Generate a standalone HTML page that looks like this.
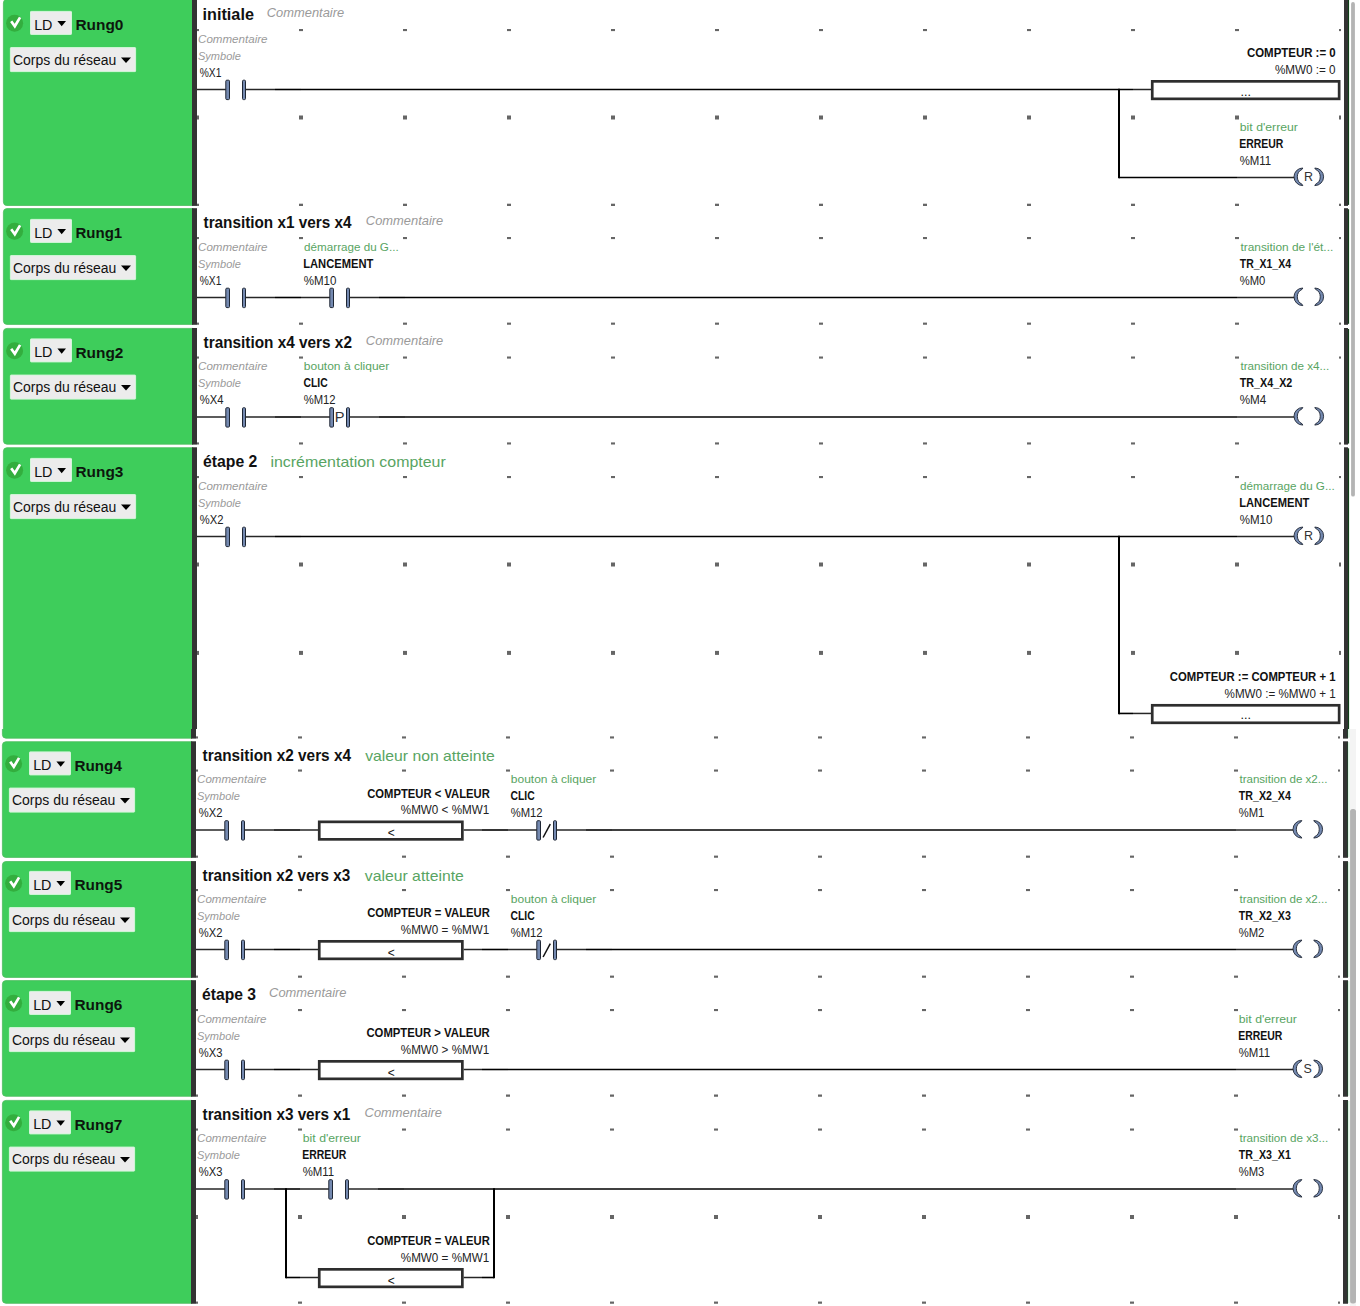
<!DOCTYPE html><html><head><meta charset="utf-8"><title>Ladder</title><style>
html,body{margin:0;padding:0;background:#fff;width:1360px;height:1306px;overflow:hidden}
svg{position:absolute;left:0;top:0;display:block}
</style></head><body>
<svg width="1360" height="1306" viewBox="0 0 1360 1306">
<rect x="0" y="0" width="1360" height="1306" fill="#ffffff"/>
<g font-family="Liberation Sans, sans-serif" fill="#1a1a1a">
<rect x="1351.1" y="2" width="3.8" height="494.6" rx="1.9" fill="#b4b4b4"/>
<rect x="1349.8" y="729" width="6.2" height="577" fill="#f4f4f4"/>
<rect x="1350.1" y="808.9" width="5.9" height="494.6" rx="2.5" fill="#b4b4b4"/>
<path d="M7.00,-0.60 H193.00 V205.50 H7.00 Q3.40,205.50 3.40,201.90 V3.00 Q3.40,-0.60 7.00,-0.60 Z" fill="#3ecd5b" stroke="#4cbb5e" stroke-width="0.8"/>
<circle cx="14.60" cy="23.30" r="8.5" fill="#33ae3e"/>
<path d="M11.20,21.30 L14.80,26.20 L20.10,17.40" fill="none" stroke="#ffffff" stroke-width="2.7"/>
<rect x="30.50" y="11.40" width="41" height="23" rx="0.6" fill="#ececec" stroke="#d3f7da" stroke-width="1"/>
<text x="34.15" y="29.70" font-size="15.0" fill="#111111" textLength="18.34" lengthAdjust="spacingAndGlyphs">LD</text>
<path d="M57.40,21.00 H66.00 L61.70,26.30 Z" fill="#000"/>
<text x="75.50" y="30.00" font-size="15.0" font-weight="bold" fill="#0c160d" textLength="47.93" lengthAdjust="spacingAndGlyphs">Rung0</text>
<rect x="10.40" y="47.60" width="125.2" height="24" rx="0.6" fill="#ececec" stroke="#d3f7da" stroke-width="1"/>
<text x="13.00" y="64.70" font-size="14.0" fill="#111111" textLength="103.35" lengthAdjust="spacingAndGlyphs">Corps du réseau</text>
<path d="M121.00,57.50 H131.00 L126.00,62.90 Z" fill="#000"/>
<rect x="192.00" y="-1.00" width="5.00" height="206.90" fill="#333333"/>
<rect x="1344.00" y="-1.00" width="4.00" height="206.90" fill="#333333"/>
<rect x="1348.00" y="0.00" width="1.00" height="204.90" fill="#103f18"/>
<rect x="1349.00" y="0.00" width="0.60" height="204.90" fill="#cfeed6"/>
<clipPath id="gc1"><rect x="0" y="29.10" width="1350" height="176.80"/></clipPath>
<g clip-path="url(#gc1)" fill="#666666"><rect x="197.00" y="27.10" width="2" height="4"/><rect x="299.00" y="27.10" width="4" height="4"/><rect x="403.00" y="27.10" width="4" height="4"/><rect x="507.00" y="27.10" width="4" height="4"/><rect x="611.00" y="27.10" width="4" height="4"/><rect x="715.00" y="27.10" width="4" height="4"/><rect x="819.00" y="27.10" width="4" height="4"/><rect x="923.00" y="27.10" width="4" height="4"/><rect x="1027.00" y="27.10" width="4" height="4"/><rect x="1131.00" y="27.10" width="4" height="4"/><rect x="1235.00" y="27.10" width="4" height="4"/><rect x="1339.00" y="27.10" width="2" height="4"/><rect x="197.00" y="115.50" width="2" height="4"/><rect x="299.00" y="115.50" width="4" height="4"/><rect x="403.00" y="115.50" width="4" height="4"/><rect x="507.00" y="115.50" width="4" height="4"/><rect x="611.00" y="115.50" width="4" height="4"/><rect x="715.00" y="115.50" width="4" height="4"/><rect x="819.00" y="115.50" width="4" height="4"/><rect x="923.00" y="115.50" width="4" height="4"/><rect x="1027.00" y="115.50" width="4" height="4"/><rect x="1131.00" y="115.50" width="4" height="4"/><rect x="1235.00" y="115.50" width="4" height="4"/><rect x="1339.00" y="115.50" width="2" height="4"/><rect x="197.00" y="203.70" width="2" height="4"/><rect x="299.00" y="203.70" width="4" height="4"/><rect x="403.00" y="203.70" width="4" height="4"/><rect x="507.00" y="203.70" width="4" height="4"/><rect x="611.00" y="203.70" width="4" height="4"/><rect x="715.00" y="203.70" width="4" height="4"/><rect x="819.00" y="203.70" width="4" height="4"/><rect x="923.00" y="203.70" width="4" height="4"/><rect x="1027.00" y="203.70" width="4" height="4"/><rect x="1131.00" y="203.70" width="4" height="4"/><rect x="1235.00" y="203.70" width="4" height="4"/><rect x="1339.00" y="203.70" width="2" height="4"/></g>
<text x="202.57" y="19.90" font-size="16.0" font-weight="bold" fill="#111111" textLength="51.34" lengthAdjust="spacingAndGlyphs">initiale</text>
<text x="266.79" y="16.90" font-size="12.5" font-style="italic" fill="#9a9a9a" textLength="77.39" lengthAdjust="spacingAndGlyphs">Commentaire</text>
<line x1="197.00" y1="89.50" x2="226.00" y2="89.50" stroke="#262626" stroke-width="1.5"/>
<line x1="245.00" y1="89.50" x2="275.00" y2="89.50" stroke="#262626" stroke-width="1.5"/>
<line x1="275.00" y1="89.50" x2="301.00" y2="89.50" stroke="#000000" stroke-width="1.6"/>
<rect x="225.80" y="80.20" width="3.7" height="19.4" rx="1" fill="#7489b0" stroke="#1e2634" stroke-width="1"/>
<rect x="242.50" y="80.20" width="3.0" height="19.4" rx="1" fill="#7489b0" stroke="#1e2634" stroke-width="1"/>
<text x="198.06" y="42.65" font-size="11.3" font-style="italic" fill="#9a9a9a" textLength="69.47" lengthAdjust="spacingAndGlyphs">Commentaire</text>
<text x="197.97" y="59.70" font-size="11.3" font-style="italic" fill="#9a9a9a" textLength="42.93" lengthAdjust="spacingAndGlyphs">Symbole</text>
<text x="199.74" y="76.50" font-size="12.0" fill="#222222" textLength="21.64" lengthAdjust="spacingAndGlyphs">%X1</text>
<line x1="301.00" y1="89.50" x2="1133.00" y2="89.50" stroke="#000000" stroke-width="1.6"/>
<line x1="1119.00" y1="88.70" x2="1119.00" y2="178.30" stroke="#000000" stroke-width="2"/>
<line x1="1119.00" y1="177.50" x2="1237.00" y2="177.50" stroke="#000000" stroke-width="1.6"/>
<line x1="1133.00" y1="89.50" x2="1152.00" y2="89.50" stroke="#262626" stroke-width="1.5"/>
<rect x="1152.25" y="81.35" width="186.90" height="17.50" fill="#fff" stroke="#2e2e2e" stroke-width="2.7"/>
<text x="1245.70" y="95.50" font-size="12.5" fill="#111111" text-anchor="middle">...</text>
<text x="1335.67" y="57.00" font-size="12.0" font-weight="bold" fill="#111111" text-anchor="end" textLength="88.73" lengthAdjust="spacingAndGlyphs">COMPTEUR := 0</text>
<text x="1335.62" y="73.60" font-size="12.0" fill="#222222" text-anchor="end" textLength="60.73" lengthAdjust="spacingAndGlyphs">%MW0 := 0</text>
<line x1="1237.00" y1="177.50" x2="1294.50" y2="177.50" stroke="#262626" stroke-width="1.5"/>
<path d="M1302.80,168.00 A8.8 8.8 0 0 0 1302.80,185.60 L1302.10,184.30 A8.3 8.3 0 0 1 1302.10,169.30 Z" fill="#7489b0" stroke="#1e2634" stroke-width="0.9"/>
<path d="M1314.80,168.00 A8.8 8.8 0 0 1 1314.80,185.60 L1315.50,184.30 A8.3 8.3 0 0 0 1315.50,169.30 Z" fill="#7489b0" stroke="#1e2634" stroke-width="0.9"/>
<text x="1308.60" y="180.90" font-size="12.5" fill="#333333" text-anchor="middle">R</text>
<text x="1239.80" y="130.80" font-size="11.4" fill="#58a462" textLength="58.13" lengthAdjust="spacingAndGlyphs">bit d&#x27;erreur</text>
<text x="1239.22" y="147.80" font-size="12.0" font-weight="bold" fill="#111111" textLength="44.12" lengthAdjust="spacingAndGlyphs">ERREUR</text>
<text x="1239.70" y="164.50" font-size="12.0" fill="#222222" textLength="31.52" lengthAdjust="spacingAndGlyphs">%M11</text>
<path d="M7.00,208.60 H193.00 V324.40 H7.00 Q3.40,324.40 3.40,320.80 V212.20 Q3.40,208.60 7.00,208.60 Z" fill="#3ecd5b" stroke="#4cbb5e" stroke-width="0.8"/>
<circle cx="14.60" cy="231.30" r="8.5" fill="#33ae3e"/>
<path d="M11.20,229.30 L14.80,234.20 L20.10,225.40" fill="none" stroke="#ffffff" stroke-width="2.7"/>
<rect x="30.50" y="219.40" width="41" height="23" rx="0.6" fill="#ececec" stroke="#d3f7da" stroke-width="1"/>
<text x="34.15" y="237.70" font-size="15.0" fill="#111111" textLength="18.34" lengthAdjust="spacingAndGlyphs">LD</text>
<path d="M57.40,229.00 H66.00 L61.70,234.30 Z" fill="#000"/>
<text x="75.53" y="238.00" font-size="15.0" font-weight="bold" fill="#0c160d" textLength="46.66" lengthAdjust="spacingAndGlyphs">Rung1</text>
<rect x="10.40" y="255.60" width="125.2" height="24" rx="0.6" fill="#ececec" stroke="#d3f7da" stroke-width="1"/>
<text x="13.00" y="272.70" font-size="14.0" fill="#111111" textLength="103.35" lengthAdjust="spacingAndGlyphs">Corps du réseau</text>
<path d="M121.00,265.50 H131.00 L126.00,270.90 Z" fill="#000"/>
<rect x="192.00" y="208.20" width="5.00" height="116.60" fill="#333333"/>
<rect x="1344.00" y="208.20" width="4.00" height="116.60" fill="#333333"/>
<rect x="1348.00" y="209.20" width="1.00" height="114.60" fill="#103f18"/>
<rect x="1349.00" y="209.20" width="0.60" height="114.60" fill="#cfeed6"/>
<clipPath id="gc2"><rect x="0" y="237.10" width="1350" height="87.70"/></clipPath>
<g clip-path="url(#gc2)" fill="#666666"><rect x="197.00" y="235.10" width="2" height="4"/><rect x="299.00" y="235.10" width="4" height="4"/><rect x="403.00" y="235.10" width="4" height="4"/><rect x="507.00" y="235.10" width="4" height="4"/><rect x="611.00" y="235.10" width="4" height="4"/><rect x="715.00" y="235.10" width="4" height="4"/><rect x="819.00" y="235.10" width="4" height="4"/><rect x="923.00" y="235.10" width="4" height="4"/><rect x="1027.00" y="235.10" width="4" height="4"/><rect x="1131.00" y="235.10" width="4" height="4"/><rect x="1235.00" y="235.10" width="4" height="4"/><rect x="1339.00" y="235.10" width="2" height="4"/><rect x="197.00" y="322.60" width="2" height="4"/><rect x="299.00" y="322.60" width="4" height="4"/><rect x="403.00" y="322.60" width="4" height="4"/><rect x="507.00" y="322.60" width="4" height="4"/><rect x="611.00" y="322.60" width="4" height="4"/><rect x="715.00" y="322.60" width="4" height="4"/><rect x="819.00" y="322.60" width="4" height="4"/><rect x="923.00" y="322.60" width="4" height="4"/><rect x="1027.00" y="322.60" width="4" height="4"/><rect x="1131.00" y="322.60" width="4" height="4"/><rect x="1235.00" y="322.60" width="4" height="4"/><rect x="1339.00" y="322.60" width="2" height="4"/></g>
<text x="203.55" y="227.70" font-size="16.0" font-weight="bold" fill="#111111" textLength="147.85" lengthAdjust="spacingAndGlyphs">transition x1 vers x4</text>
<text x="365.89" y="224.70" font-size="12.5" font-style="italic" fill="#9a9a9a" textLength="77.39" lengthAdjust="spacingAndGlyphs">Commentaire</text>
<line x1="197.00" y1="297.50" x2="226.00" y2="297.50" stroke="#262626" stroke-width="1.5"/>
<line x1="245.00" y1="297.50" x2="275.00" y2="297.50" stroke="#262626" stroke-width="1.5"/>
<line x1="275.00" y1="297.50" x2="301.00" y2="297.50" stroke="#000000" stroke-width="1.6"/>
<rect x="225.80" y="288.20" width="3.7" height="19.4" rx="1" fill="#7489b0" stroke="#1e2634" stroke-width="1"/>
<rect x="242.50" y="288.20" width="3.0" height="19.4" rx="1" fill="#7489b0" stroke="#1e2634" stroke-width="1"/>
<text x="198.06" y="250.65" font-size="11.3" font-style="italic" fill="#9a9a9a" textLength="69.47" lengthAdjust="spacingAndGlyphs">Commentaire</text>
<text x="197.97" y="267.70" font-size="11.3" font-style="italic" fill="#9a9a9a" textLength="42.93" lengthAdjust="spacingAndGlyphs">Symbole</text>
<text x="199.74" y="284.50" font-size="12.0" fill="#222222" textLength="21.64" lengthAdjust="spacingAndGlyphs">%X1</text>
<line x1="301.00" y1="297.50" x2="330.00" y2="297.50" stroke="#262626" stroke-width="1.5"/>
<line x1="349.00" y1="297.50" x2="379.00" y2="297.50" stroke="#262626" stroke-width="1.5"/>
<line x1="379.00" y1="297.50" x2="405.00" y2="297.50" stroke="#000000" stroke-width="1.6"/>
<rect x="329.80" y="288.20" width="3.7" height="19.4" rx="1" fill="#7489b0" stroke="#1e2634" stroke-width="1"/>
<rect x="346.50" y="288.20" width="3.0" height="19.4" rx="1" fill="#7489b0" stroke="#1e2634" stroke-width="1"/>
<text x="304.13" y="250.80" font-size="11.4" fill="#58a462" textLength="94.52" lengthAdjust="spacingAndGlyphs">démarrage du G...</text>
<text x="303.17" y="267.80" font-size="12.0" font-weight="bold" fill="#111111" textLength="70.17" lengthAdjust="spacingAndGlyphs">LANCEMENT</text>
<text x="303.70" y="284.50" font-size="12.0" fill="#222222" textLength="32.70" lengthAdjust="spacingAndGlyphs">%M10</text>
<line x1="405.00" y1="297.50" x2="1237.00" y2="297.50" stroke="#000000" stroke-width="1.6"/>
<line x1="1237.00" y1="297.50" x2="1294.50" y2="297.50" stroke="#262626" stroke-width="1.5"/>
<path d="M1302.80,288.00 A8.8 8.8 0 0 0 1302.80,305.60 L1302.10,304.30 A8.3 8.3 0 0 1 1302.10,289.30 Z" fill="#7489b0" stroke="#1e2634" stroke-width="0.9"/>
<path d="M1314.80,288.00 A8.8 8.8 0 0 1 1314.80,305.60 L1315.50,304.30 A8.3 8.3 0 0 0 1315.50,289.30 Z" fill="#7489b0" stroke="#1e2634" stroke-width="0.9"/>
<text x="1240.42" y="250.80" font-size="11.4" fill="#58a462" textLength="92.86" lengthAdjust="spacingAndGlyphs">transition de l&#x27;ét...</text>
<text x="1239.80" y="267.80" font-size="12.0" font-weight="bold" fill="#111111" textLength="51.18" lengthAdjust="spacingAndGlyphs">TR_X1_X4</text>
<text x="1239.71" y="284.50" font-size="12.0" fill="#222222" textLength="25.57" lengthAdjust="spacingAndGlyphs">%M0</text>
<path d="M7.00,328.40 H193.00 V444.20 H7.00 Q3.40,444.20 3.40,440.60 V332.00 Q3.40,328.40 7.00,328.40 Z" fill="#3ecd5b" stroke="#4cbb5e" stroke-width="0.8"/>
<circle cx="14.60" cy="350.80" r="8.5" fill="#33ae3e"/>
<path d="M11.20,348.80 L14.80,353.70 L20.10,344.90" fill="none" stroke="#ffffff" stroke-width="2.7"/>
<rect x="30.50" y="338.90" width="41" height="23" rx="0.6" fill="#ececec" stroke="#d3f7da" stroke-width="1"/>
<text x="34.15" y="357.20" font-size="15.0" fill="#111111" textLength="18.34" lengthAdjust="spacingAndGlyphs">LD</text>
<path d="M57.40,348.50 H66.00 L61.70,353.80 Z" fill="#000"/>
<text x="75.50" y="357.50" font-size="15.0" font-weight="bold" fill="#0c160d" textLength="47.93" lengthAdjust="spacingAndGlyphs">Rung2</text>
<rect x="10.40" y="375.10" width="125.2" height="24" rx="0.6" fill="#ececec" stroke="#d3f7da" stroke-width="1"/>
<text x="13.00" y="392.20" font-size="14.0" fill="#111111" textLength="103.35" lengthAdjust="spacingAndGlyphs">Corps du réseau</text>
<path d="M121.00,385.00 H131.00 L126.00,390.40 Z" fill="#000"/>
<rect x="192.00" y="328.00" width="5.00" height="116.60" fill="#333333"/>
<rect x="1344.00" y="328.00" width="4.00" height="116.60" fill="#333333"/>
<rect x="1348.00" y="329.00" width="1.00" height="114.60" fill="#103f18"/>
<rect x="1349.00" y="329.00" width="0.60" height="114.60" fill="#cfeed6"/>
<clipPath id="gc3"><rect x="0" y="356.60" width="1350" height="88.00"/></clipPath>
<g clip-path="url(#gc3)" fill="#666666"><rect x="197.00" y="354.60" width="2" height="4"/><rect x="299.00" y="354.60" width="4" height="4"/><rect x="403.00" y="354.60" width="4" height="4"/><rect x="507.00" y="354.60" width="4" height="4"/><rect x="611.00" y="354.60" width="4" height="4"/><rect x="715.00" y="354.60" width="4" height="4"/><rect x="819.00" y="354.60" width="4" height="4"/><rect x="923.00" y="354.60" width="4" height="4"/><rect x="1027.00" y="354.60" width="4" height="4"/><rect x="1131.00" y="354.60" width="4" height="4"/><rect x="1235.00" y="354.60" width="4" height="4"/><rect x="1339.00" y="354.60" width="2" height="4"/><rect x="197.00" y="442.40" width="2" height="4"/><rect x="299.00" y="442.40" width="4" height="4"/><rect x="403.00" y="442.40" width="4" height="4"/><rect x="507.00" y="442.40" width="4" height="4"/><rect x="611.00" y="442.40" width="4" height="4"/><rect x="715.00" y="442.40" width="4" height="4"/><rect x="819.00" y="442.40" width="4" height="4"/><rect x="923.00" y="442.40" width="4" height="4"/><rect x="1027.00" y="442.40" width="4" height="4"/><rect x="1131.00" y="442.40" width="4" height="4"/><rect x="1235.00" y="442.40" width="4" height="4"/><rect x="1339.00" y="442.40" width="2" height="4"/></g>
<text x="203.55" y="347.50" font-size="16.0" font-weight="bold" fill="#111111" textLength="148.39" lengthAdjust="spacingAndGlyphs">transition x4 vers x2</text>
<text x="365.89" y="344.50" font-size="12.5" font-style="italic" fill="#9a9a9a" textLength="77.39" lengthAdjust="spacingAndGlyphs">Commentaire</text>
<line x1="197.00" y1="417.00" x2="226.00" y2="417.00" stroke="#262626" stroke-width="1.5"/>
<line x1="245.00" y1="417.00" x2="275.00" y2="417.00" stroke="#262626" stroke-width="1.5"/>
<line x1="275.00" y1="417.00" x2="301.00" y2="417.00" stroke="#000000" stroke-width="1.6"/>
<rect x="225.80" y="407.70" width="3.7" height="19.4" rx="1" fill="#7489b0" stroke="#1e2634" stroke-width="1"/>
<rect x="242.50" y="407.70" width="3.0" height="19.4" rx="1" fill="#7489b0" stroke="#1e2634" stroke-width="1"/>
<text x="198.06" y="370.15" font-size="11.3" font-style="italic" fill="#9a9a9a" textLength="69.47" lengthAdjust="spacingAndGlyphs">Commentaire</text>
<text x="197.97" y="387.20" font-size="11.3" font-style="italic" fill="#9a9a9a" textLength="42.93" lengthAdjust="spacingAndGlyphs">Symbole</text>
<text x="199.71" y="404.00" font-size="12.0" fill="#222222" textLength="23.71" lengthAdjust="spacingAndGlyphs">%X4</text>
<line x1="301.00" y1="417.00" x2="330.00" y2="417.00" stroke="#262626" stroke-width="1.5"/>
<line x1="349.00" y1="417.00" x2="379.00" y2="417.00" stroke="#262626" stroke-width="1.5"/>
<line x1="379.00" y1="417.00" x2="405.00" y2="417.00" stroke="#000000" stroke-width="1.6"/>
<rect x="329.80" y="407.70" width="3.7" height="19.4" rx="1" fill="#7489b0" stroke="#1e2634" stroke-width="1"/>
<rect x="346.50" y="407.70" width="3.0" height="19.4" rx="1" fill="#7489b0" stroke="#1e2634" stroke-width="1"/>
<text x="339.70" y="421.90" font-size="14.6" fill="#333333" text-anchor="middle">P</text>
<text x="303.82" y="370.30" font-size="11.4" fill="#58a462" textLength="85.48" lengthAdjust="spacingAndGlyphs">bouton à cliquer</text>
<text x="303.48" y="387.30" font-size="12.0" font-weight="bold" fill="#111111" textLength="24.21" lengthAdjust="spacingAndGlyphs">CLIC</text>
<text x="303.71" y="404.00" font-size="12.0" fill="#222222" textLength="31.85" lengthAdjust="spacingAndGlyphs">%M12</text>
<line x1="405.00" y1="417.00" x2="1237.00" y2="417.00" stroke="#000000" stroke-width="1.6"/>
<line x1="1237.00" y1="417.00" x2="1294.50" y2="417.00" stroke="#262626" stroke-width="1.5"/>
<path d="M1302.80,407.50 A8.8 8.8 0 0 0 1302.80,425.10 L1302.10,423.80 A8.3 8.3 0 0 1 1302.10,408.80 Z" fill="#7489b0" stroke="#1e2634" stroke-width="0.9"/>
<path d="M1314.80,407.50 A8.8 8.8 0 0 1 1314.80,425.10 L1315.50,423.80 A8.3 8.3 0 0 0 1315.50,408.80 Z" fill="#7489b0" stroke="#1e2634" stroke-width="0.9"/>
<text x="1240.43" y="370.30" font-size="11.4" fill="#58a462" textLength="88.73" lengthAdjust="spacingAndGlyphs">transition de x4...</text>
<text x="1239.79" y="387.30" font-size="12.0" font-weight="bold" fill="#111111" textLength="52.56" lengthAdjust="spacingAndGlyphs">TR_X4_X2</text>
<text x="1239.69" y="404.00" font-size="12.0" fill="#222222" textLength="26.60" lengthAdjust="spacingAndGlyphs">%M4</text>
<path d="M7.00,447.70 H193.00 V738.20 H7.00 Q3.40,738.20 3.40,734.60 V451.30 Q3.40,447.70 7.00,447.70 Z" fill="#3ecd5b" stroke="#4cbb5e" stroke-width="0.8"/>
<circle cx="14.60" cy="470.30" r="8.5" fill="#33ae3e"/>
<path d="M11.20,468.30 L14.80,473.20 L20.10,464.40" fill="none" stroke="#ffffff" stroke-width="2.7"/>
<rect x="30.50" y="458.40" width="41" height="23" rx="0.6" fill="#ececec" stroke="#d3f7da" stroke-width="1"/>
<text x="34.15" y="476.70" font-size="15.0" fill="#111111" textLength="18.34" lengthAdjust="spacingAndGlyphs">LD</text>
<path d="M57.40,468.00 H66.00 L61.70,473.30 Z" fill="#000"/>
<text x="75.50" y="477.00" font-size="15.0" font-weight="bold" fill="#0c160d" textLength="47.85" lengthAdjust="spacingAndGlyphs">Rung3</text>
<rect x="10.40" y="494.60" width="125.2" height="24" rx="0.6" fill="#ececec" stroke="#d3f7da" stroke-width="1"/>
<text x="13.00" y="511.70" font-size="14.0" fill="#111111" textLength="103.35" lengthAdjust="spacingAndGlyphs">Corps du réseau</text>
<path d="M121.00,504.50 H131.00 L126.00,509.90 Z" fill="#000"/>
<rect x="192.00" y="447.30" width="5.00" height="291.30" fill="#333333"/>
<rect x="1344.00" y="447.30" width="4.00" height="291.30" fill="#333333"/>
<rect x="1348.00" y="448.30" width="1.00" height="289.30" fill="#103f18"/>
<rect x="1349.00" y="448.30" width="0.60" height="289.30" fill="#cfeed6"/>
<clipPath id="gc4"><rect x="0" y="476.10" width="1350" height="262.50"/></clipPath>
<g clip-path="url(#gc4)" fill="#666666"><rect x="197.00" y="474.10" width="2" height="4"/><rect x="299.00" y="474.10" width="4" height="4"/><rect x="403.00" y="474.10" width="4" height="4"/><rect x="507.00" y="474.10" width="4" height="4"/><rect x="611.00" y="474.10" width="4" height="4"/><rect x="715.00" y="474.10" width="4" height="4"/><rect x="819.00" y="474.10" width="4" height="4"/><rect x="923.00" y="474.10" width="4" height="4"/><rect x="1027.00" y="474.10" width="4" height="4"/><rect x="1131.00" y="474.10" width="4" height="4"/><rect x="1235.00" y="474.10" width="4" height="4"/><rect x="1339.00" y="474.10" width="2" height="4"/><rect x="197.00" y="562.50" width="2" height="4"/><rect x="299.00" y="562.50" width="4" height="4"/><rect x="403.00" y="562.50" width="4" height="4"/><rect x="507.00" y="562.50" width="4" height="4"/><rect x="611.00" y="562.50" width="4" height="4"/><rect x="715.00" y="562.50" width="4" height="4"/><rect x="819.00" y="562.50" width="4" height="4"/><rect x="923.00" y="562.50" width="4" height="4"/><rect x="1027.00" y="562.50" width="4" height="4"/><rect x="1131.00" y="562.50" width="4" height="4"/><rect x="1235.00" y="562.50" width="4" height="4"/><rect x="1339.00" y="562.50" width="2" height="4"/><rect x="197.00" y="650.90" width="2" height="4"/><rect x="299.00" y="650.90" width="4" height="4"/><rect x="403.00" y="650.90" width="4" height="4"/><rect x="507.00" y="650.90" width="4" height="4"/><rect x="611.00" y="650.90" width="4" height="4"/><rect x="715.00" y="650.90" width="4" height="4"/><rect x="819.00" y="650.90" width="4" height="4"/><rect x="923.00" y="650.90" width="4" height="4"/><rect x="1027.00" y="650.90" width="4" height="4"/><rect x="1131.00" y="650.90" width="4" height="4"/><rect x="1235.00" y="650.90" width="4" height="4"/><rect x="1339.00" y="650.90" width="2" height="4"/><rect x="197.00" y="736.40" width="2" height="4"/><rect x="299.00" y="736.40" width="4" height="4"/><rect x="403.00" y="736.40" width="4" height="4"/><rect x="507.00" y="736.40" width="4" height="4"/><rect x="611.00" y="736.40" width="4" height="4"/><rect x="715.00" y="736.40" width="4" height="4"/><rect x="819.00" y="736.40" width="4" height="4"/><rect x="923.00" y="736.40" width="4" height="4"/><rect x="1027.00" y="736.40" width="4" height="4"/><rect x="1131.00" y="736.40" width="4" height="4"/><rect x="1235.00" y="736.40" width="4" height="4"/><rect x="1339.00" y="736.40" width="2" height="4"/></g>
<text x="203.07" y="466.80" font-size="16.0" font-weight="bold" fill="#111111" textLength="54.28" lengthAdjust="spacingAndGlyphs">étape 2</text>
<text x="270.46" y="466.80" font-size="15.0" fill="#58a462" textLength="175.29" lengthAdjust="spacingAndGlyphs">incrémentation compteur</text>
<line x1="197.00" y1="536.50" x2="226.00" y2="536.50" stroke="#262626" stroke-width="1.5"/>
<line x1="245.00" y1="536.50" x2="275.00" y2="536.50" stroke="#262626" stroke-width="1.5"/>
<line x1="275.00" y1="536.50" x2="301.00" y2="536.50" stroke="#000000" stroke-width="1.6"/>
<rect x="225.80" y="527.20" width="3.7" height="19.4" rx="1" fill="#7489b0" stroke="#1e2634" stroke-width="1"/>
<rect x="242.50" y="527.20" width="3.0" height="19.4" rx="1" fill="#7489b0" stroke="#1e2634" stroke-width="1"/>
<text x="198.06" y="489.65" font-size="11.3" font-style="italic" fill="#9a9a9a" textLength="69.47" lengthAdjust="spacingAndGlyphs">Commentaire</text>
<text x="197.97" y="506.70" font-size="11.3" font-style="italic" fill="#9a9a9a" textLength="42.93" lengthAdjust="spacingAndGlyphs">Symbole</text>
<text x="199.71" y="523.50" font-size="12.0" fill="#222222" textLength="23.71" lengthAdjust="spacingAndGlyphs">%X2</text>
<line x1="301.00" y1="536.50" x2="1237.00" y2="536.50" stroke="#000000" stroke-width="1.6"/>
<line x1="1119.00" y1="535.70" x2="1119.00" y2="714.25" stroke="#000000" stroke-width="2"/>
<line x1="1119.00" y1="713.45" x2="1133.00" y2="713.45" stroke="#000000" stroke-width="1.6"/>
<line x1="1237.00" y1="536.50" x2="1294.50" y2="536.50" stroke="#262626" stroke-width="1.5"/>
<path d="M1302.80,527.00 A8.8 8.8 0 0 0 1302.80,544.60 L1302.10,543.30 A8.3 8.3 0 0 1 1302.10,528.30 Z" fill="#7489b0" stroke="#1e2634" stroke-width="0.9"/>
<path d="M1314.80,527.00 A8.8 8.8 0 0 1 1314.80,544.60 L1315.50,543.30 A8.3 8.3 0 0 0 1315.50,528.30 Z" fill="#7489b0" stroke="#1e2634" stroke-width="0.9"/>
<text x="1308.60" y="539.90" font-size="12.5" fill="#333333" text-anchor="middle">R</text>
<text x="1240.13" y="489.80" font-size="11.4" fill="#58a462" textLength="94.52" lengthAdjust="spacingAndGlyphs">démarrage du G...</text>
<text x="1239.17" y="506.80" font-size="12.0" font-weight="bold" fill="#111111" textLength="70.17" lengthAdjust="spacingAndGlyphs">LANCEMENT</text>
<text x="1239.70" y="523.50" font-size="12.0" fill="#222222" textLength="32.70" lengthAdjust="spacingAndGlyphs">%M10</text>
<line x1="1133.00" y1="713.45" x2="1152.00" y2="713.45" stroke="#262626" stroke-width="1.5"/>
<rect x="1152.25" y="705.30" width="186.90" height="17.50" fill="#fff" stroke="#2e2e2e" stroke-width="2.7"/>
<text x="1245.70" y="719.45" font-size="12.5" fill="#111111" text-anchor="middle">...</text>
<text x="1335.52" y="680.95" font-size="12.0" font-weight="bold" fill="#111111" text-anchor="end" textLength="165.67" lengthAdjust="spacingAndGlyphs">COMPTEUR := COMPTEUR + 1</text>
<text x="1335.75" y="697.55" font-size="12.0" fill="#222222" text-anchor="end" textLength="111.16" lengthAdjust="spacingAndGlyphs">%MW0 := %MW0 + 1</text>
<clipPath id="stitch"><rect x="0" y="729" width="1349.5" height="12"/></clipPath><g clip-path="url(#stitch)">
<rect x="0.00" y="729.00" width="1349.50" height="12.00" fill="#ffffff"/>
<path d="M6.00,447.70 H192.00 V738.20 H6.00 Q2.40,738.20 2.40,734.60 V451.30 Q2.40,447.70 6.00,447.70 Z" fill="#3ecd5b" stroke="#4cbb5e" stroke-width="0.8"/>
<circle cx="13.60" cy="470.30" r="8.5" fill="#33ae3e"/>
<path d="M10.20,468.30 L13.80,473.20 L19.10,464.40" fill="none" stroke="#ffffff" stroke-width="2.7"/>
<rect x="29.50" y="458.40" width="41" height="23" rx="0.6" fill="#ececec" stroke="#d3f7da" stroke-width="1"/>
<text x="33.15" y="476.70" font-size="15.0" fill="#111111" textLength="18.34" lengthAdjust="spacingAndGlyphs">LD</text>
<path d="M56.40,468.00 H65.00 L60.70,473.30 Z" fill="#000"/>
<text x="74.50" y="477.00" font-size="15.0" font-weight="bold" fill="#0c160d" textLength="47.85" lengthAdjust="spacingAndGlyphs">Rung3</text>
<rect x="9.40" y="494.60" width="125.2" height="24" rx="0.6" fill="#ececec" stroke="#d3f7da" stroke-width="1"/>
<text x="12.00" y="511.70" font-size="14.0" fill="#111111" textLength="103.35" lengthAdjust="spacingAndGlyphs">Corps du réseau</text>
<path d="M120.00,504.50 H130.00 L125.00,509.90 Z" fill="#000"/>
<rect x="191.00" y="447.30" width="5.00" height="291.30" fill="#333333"/>
<rect x="1343.00" y="447.30" width="5.00" height="291.30" fill="#333333"/>
<rect x="1347.40" y="448.30" width="0.80" height="289.30" fill="#1f4a2a"/>
<rect x="1348.20" y="448.30" width="1.40" height="289.30" fill="#dcf8e4"/>
<clipPath id="gc5"><rect x="0" y="476.10" width="1350" height="262.50"/></clipPath>
<g clip-path="url(#gc5)" fill="#666666"><rect x="196.00" y="474.10" width="2" height="4"/><rect x="298.00" y="474.10" width="4" height="4"/><rect x="402.00" y="474.10" width="4" height="4"/><rect x="506.00" y="474.10" width="4" height="4"/><rect x="610.00" y="474.10" width="4" height="4"/><rect x="714.00" y="474.10" width="4" height="4"/><rect x="818.00" y="474.10" width="4" height="4"/><rect x="922.00" y="474.10" width="4" height="4"/><rect x="1026.00" y="474.10" width="4" height="4"/><rect x="1130.00" y="474.10" width="4" height="4"/><rect x="1234.00" y="474.10" width="4" height="4"/><rect x="1338.00" y="474.10" width="2" height="4"/><rect x="196.00" y="562.50" width="2" height="4"/><rect x="298.00" y="562.50" width="4" height="4"/><rect x="402.00" y="562.50" width="4" height="4"/><rect x="506.00" y="562.50" width="4" height="4"/><rect x="610.00" y="562.50" width="4" height="4"/><rect x="714.00" y="562.50" width="4" height="4"/><rect x="818.00" y="562.50" width="4" height="4"/><rect x="922.00" y="562.50" width="4" height="4"/><rect x="1026.00" y="562.50" width="4" height="4"/><rect x="1130.00" y="562.50" width="4" height="4"/><rect x="1234.00" y="562.50" width="4" height="4"/><rect x="1338.00" y="562.50" width="2" height="4"/><rect x="196.00" y="650.90" width="2" height="4"/><rect x="298.00" y="650.90" width="4" height="4"/><rect x="402.00" y="650.90" width="4" height="4"/><rect x="506.00" y="650.90" width="4" height="4"/><rect x="610.00" y="650.90" width="4" height="4"/><rect x="714.00" y="650.90" width="4" height="4"/><rect x="818.00" y="650.90" width="4" height="4"/><rect x="922.00" y="650.90" width="4" height="4"/><rect x="1026.00" y="650.90" width="4" height="4"/><rect x="1130.00" y="650.90" width="4" height="4"/><rect x="1234.00" y="650.90" width="4" height="4"/><rect x="1338.00" y="650.90" width="2" height="4"/><rect x="196.00" y="736.40" width="2" height="4"/><rect x="298.00" y="736.40" width="4" height="4"/><rect x="402.00" y="736.40" width="4" height="4"/><rect x="506.00" y="736.40" width="4" height="4"/><rect x="610.00" y="736.40" width="4" height="4"/><rect x="714.00" y="736.40" width="4" height="4"/><rect x="818.00" y="736.40" width="4" height="4"/><rect x="922.00" y="736.40" width="4" height="4"/><rect x="1026.00" y="736.40" width="4" height="4"/><rect x="1130.00" y="736.40" width="4" height="4"/><rect x="1234.00" y="736.40" width="4" height="4"/><rect x="1338.00" y="736.40" width="2" height="4"/></g>
</g>
<path d="M6.00,741.70 H192.00 V857.40 H6.00 Q2.40,857.40 2.40,853.80 V745.30 Q2.40,741.70 6.00,741.70 Z" fill="#3ecd5b" stroke="#4cbb5e" stroke-width="0.8"/>
<circle cx="13.60" cy="763.80" r="8.5" fill="#33ae3e"/>
<path d="M10.20,761.80 L13.80,766.70 L19.10,757.90" fill="none" stroke="#ffffff" stroke-width="2.7"/>
<rect x="29.50" y="751.90" width="41" height="23" rx="0.6" fill="#ececec" stroke="#d3f7da" stroke-width="1"/>
<text x="33.15" y="770.20" font-size="15.0" fill="#111111" textLength="18.34" lengthAdjust="spacingAndGlyphs">LD</text>
<path d="M56.40,761.50 H65.00 L60.70,766.80 Z" fill="#000"/>
<text x="74.51" y="770.50" font-size="15.0" font-weight="bold" fill="#0c160d" textLength="47.38" lengthAdjust="spacingAndGlyphs">Rung4</text>
<rect x="9.40" y="788.10" width="125.2" height="24" rx="0.6" fill="#ececec" stroke="#d3f7da" stroke-width="1"/>
<text x="12.00" y="805.20" font-size="14.0" fill="#111111" textLength="103.35" lengthAdjust="spacingAndGlyphs">Corps du réseau</text>
<path d="M120.00,798.00 H130.00 L125.00,803.40 Z" fill="#000"/>
<rect x="191.00" y="741.30" width="5.00" height="116.50" fill="#333333"/>
<rect x="1343.00" y="741.30" width="5.00" height="116.50" fill="#333333"/>
<rect x="1347.40" y="742.30" width="0.80" height="114.50" fill="#1f4a2a"/>
<rect x="1348.20" y="742.30" width="1.40" height="114.50" fill="#dcf8e4"/>
<clipPath id="gc6"><rect x="0" y="769.60" width="1350" height="88.20"/></clipPath>
<g clip-path="url(#gc6)" fill="#666666"><rect x="196.00" y="767.60" width="2" height="4"/><rect x="298.00" y="767.60" width="4" height="4"/><rect x="402.00" y="767.60" width="4" height="4"/><rect x="506.00" y="767.60" width="4" height="4"/><rect x="610.00" y="767.60" width="4" height="4"/><rect x="714.00" y="767.60" width="4" height="4"/><rect x="818.00" y="767.60" width="4" height="4"/><rect x="922.00" y="767.60" width="4" height="4"/><rect x="1026.00" y="767.60" width="4" height="4"/><rect x="1130.00" y="767.60" width="4" height="4"/><rect x="1234.00" y="767.60" width="4" height="4"/><rect x="1338.00" y="767.60" width="2" height="4"/><rect x="196.00" y="855.60" width="2" height="4"/><rect x="298.00" y="855.60" width="4" height="4"/><rect x="402.00" y="855.60" width="4" height="4"/><rect x="506.00" y="855.60" width="4" height="4"/><rect x="610.00" y="855.60" width="4" height="4"/><rect x="714.00" y="855.60" width="4" height="4"/><rect x="818.00" y="855.60" width="4" height="4"/><rect x="922.00" y="855.60" width="4" height="4"/><rect x="1026.00" y="855.60" width="4" height="4"/><rect x="1130.00" y="855.60" width="4" height="4"/><rect x="1234.00" y="855.60" width="4" height="4"/><rect x="1338.00" y="855.60" width="2" height="4"/></g>
<text x="202.55" y="760.80" font-size="16.0" font-weight="bold" fill="#111111" textLength="148.45" lengthAdjust="spacingAndGlyphs">transition x2 vers x4</text>
<text x="365.22" y="760.80" font-size="15.0" fill="#58a462" textLength="129.54" lengthAdjust="spacingAndGlyphs">valeur non atteinte</text>
<line x1="196.00" y1="830.00" x2="225.00" y2="830.00" stroke="#262626" stroke-width="1.5"/>
<line x1="244.00" y1="830.00" x2="274.00" y2="830.00" stroke="#262626" stroke-width="1.5"/>
<line x1="274.00" y1="830.00" x2="300.00" y2="830.00" stroke="#000000" stroke-width="1.6"/>
<rect x="224.80" y="820.70" width="3.7" height="19.4" rx="1" fill="#7489b0" stroke="#1e2634" stroke-width="1"/>
<rect x="241.50" y="820.70" width="3.0" height="19.4" rx="1" fill="#7489b0" stroke="#1e2634" stroke-width="1"/>
<text x="197.06" y="783.15" font-size="11.3" font-style="italic" fill="#9a9a9a" textLength="69.47" lengthAdjust="spacingAndGlyphs">Commentaire</text>
<text x="196.97" y="800.20" font-size="11.3" font-style="italic" fill="#9a9a9a" textLength="42.93" lengthAdjust="spacingAndGlyphs">Symbole</text>
<text x="198.71" y="817.00" font-size="12.0" fill="#222222" textLength="23.71" lengthAdjust="spacingAndGlyphs">%X2</text>
<line x1="300.00" y1="830.00" x2="319.00" y2="830.00" stroke="#262626" stroke-width="1.5"/>
<rect x="319.25" y="821.85" width="143.10" height="17.50" fill="#fff" stroke="#2e2e2e" stroke-width="2.7"/>
<line x1="463.70" y1="830.00" x2="482.00" y2="830.00" stroke="#262626" stroke-width="1.5"/>
<line x1="482.00" y1="830.00" x2="508.00" y2="830.00" stroke="#000000" stroke-width="1.6"/>
<text x="391.30" y="837.20" font-size="12" fill="#111111" text-anchor="middle">&lt;</text>
<text x="489.77" y="797.70" font-size="12.0" font-weight="bold" fill="#111111" text-anchor="end" textLength="122.52" lengthAdjust="spacingAndGlyphs">COMPTEUR &lt; VALEUR</text>
<text x="489.21" y="814.30" font-size="12.0" fill="#222222" text-anchor="end" textLength="88.42" lengthAdjust="spacingAndGlyphs">%MW0 &lt; %MW1</text>
<line x1="508.00" y1="830.00" x2="537.00" y2="830.00" stroke="#262626" stroke-width="1.5"/>
<line x1="556.00" y1="830.00" x2="586.00" y2="830.00" stroke="#262626" stroke-width="1.5"/>
<line x1="586.00" y1="830.00" x2="612.00" y2="830.00" stroke="#000000" stroke-width="1.6"/>
<rect x="536.80" y="820.70" width="3.7" height="19.4" rx="1" fill="#7489b0" stroke="#1e2634" stroke-width="1"/>
<rect x="553.50" y="820.70" width="3.0" height="19.4" rx="1" fill="#7489b0" stroke="#1e2634" stroke-width="1"/>
<line x1="543.10" y1="837.50" x2="550.30" y2="824.20" stroke="#111111" stroke-width="1.5"/>
<text x="510.82" y="783.30" font-size="11.4" fill="#58a462" textLength="85.48" lengthAdjust="spacingAndGlyphs">bouton à cliquer</text>
<text x="510.48" y="800.30" font-size="12.0" font-weight="bold" fill="#111111" textLength="24.21" lengthAdjust="spacingAndGlyphs">CLIC</text>
<text x="510.71" y="817.00" font-size="12.0" fill="#222222" textLength="31.85" lengthAdjust="spacingAndGlyphs">%M12</text>
<line x1="612.00" y1="830.00" x2="1236.00" y2="830.00" stroke="#000000" stroke-width="1.6"/>
<line x1="1236.00" y1="830.00" x2="1293.50" y2="830.00" stroke="#262626" stroke-width="1.5"/>
<path d="M1301.80,820.50 A8.8 8.8 0 0 0 1301.80,838.10 L1301.10,836.80 A8.3 8.3 0 0 1 1301.10,821.80 Z" fill="#7489b0" stroke="#1e2634" stroke-width="0.9"/>
<path d="M1313.80,820.50 A8.8 8.8 0 0 1 1313.80,838.10 L1314.50,836.80 A8.3 8.3 0 0 0 1314.50,821.80 Z" fill="#7489b0" stroke="#1e2634" stroke-width="0.9"/>
<text x="1239.43" y="783.30" font-size="11.4" fill="#58a462" textLength="88.02" lengthAdjust="spacingAndGlyphs">transition de x2...</text>
<text x="1238.79" y="800.30" font-size="12.0" font-weight="bold" fill="#111111" textLength="52.05" lengthAdjust="spacingAndGlyphs">TR_X2_X4</text>
<text x="1238.71" y="817.00" font-size="12.0" fill="#222222" textLength="25.57" lengthAdjust="spacingAndGlyphs">%M1</text>
<path d="M6.00,861.50 H192.00 V977.40 H6.00 Q2.40,977.40 2.40,973.80 V865.10 Q2.40,861.50 6.00,861.50 Z" fill="#3ecd5b" stroke="#4cbb5e" stroke-width="0.8"/>
<circle cx="13.60" cy="883.30" r="8.5" fill="#33ae3e"/>
<path d="M10.20,881.30 L13.80,886.20 L19.10,877.40" fill="none" stroke="#ffffff" stroke-width="2.7"/>
<rect x="29.50" y="871.40" width="41" height="23" rx="0.6" fill="#ececec" stroke="#d3f7da" stroke-width="1"/>
<text x="33.15" y="889.70" font-size="15.0" fill="#111111" textLength="18.34" lengthAdjust="spacingAndGlyphs">LD</text>
<path d="M56.40,881.00 H65.00 L60.70,886.30 Z" fill="#000"/>
<text x="74.50" y="890.00" font-size="15.0" font-weight="bold" fill="#0c160d" textLength="47.69" lengthAdjust="spacingAndGlyphs">Rung5</text>
<rect x="9.40" y="907.60" width="125.2" height="24" rx="0.6" fill="#ececec" stroke="#d3f7da" stroke-width="1"/>
<text x="12.00" y="924.70" font-size="14.0" fill="#111111" textLength="103.35" lengthAdjust="spacingAndGlyphs">Corps du réseau</text>
<path d="M120.00,917.50 H130.00 L125.00,922.90 Z" fill="#000"/>
<rect x="191.00" y="861.10" width="5.00" height="116.70" fill="#333333"/>
<rect x="1343.00" y="861.10" width="5.00" height="116.70" fill="#333333"/>
<rect x="1347.40" y="862.10" width="0.80" height="114.70" fill="#1f4a2a"/>
<rect x="1348.20" y="862.10" width="1.40" height="114.70" fill="#dcf8e4"/>
<clipPath id="gc7"><rect x="0" y="889.10" width="1350" height="88.70"/></clipPath>
<g clip-path="url(#gc7)" fill="#666666"><rect x="196.00" y="887.10" width="2" height="4"/><rect x="298.00" y="887.10" width="4" height="4"/><rect x="402.00" y="887.10" width="4" height="4"/><rect x="506.00" y="887.10" width="4" height="4"/><rect x="610.00" y="887.10" width="4" height="4"/><rect x="714.00" y="887.10" width="4" height="4"/><rect x="818.00" y="887.10" width="4" height="4"/><rect x="922.00" y="887.10" width="4" height="4"/><rect x="1026.00" y="887.10" width="4" height="4"/><rect x="1130.00" y="887.10" width="4" height="4"/><rect x="1234.00" y="887.10" width="4" height="4"/><rect x="1338.00" y="887.10" width="2" height="4"/><rect x="196.00" y="975.60" width="2" height="4"/><rect x="298.00" y="975.60" width="4" height="4"/><rect x="402.00" y="975.60" width="4" height="4"/><rect x="506.00" y="975.60" width="4" height="4"/><rect x="610.00" y="975.60" width="4" height="4"/><rect x="714.00" y="975.60" width="4" height="4"/><rect x="818.00" y="975.60" width="4" height="4"/><rect x="922.00" y="975.60" width="4" height="4"/><rect x="1026.00" y="975.60" width="4" height="4"/><rect x="1130.00" y="975.60" width="4" height="4"/><rect x="1234.00" y="975.60" width="4" height="4"/><rect x="1338.00" y="975.60" width="2" height="4"/></g>
<text x="202.55" y="880.60" font-size="16.0" font-weight="bold" fill="#111111" textLength="147.71" lengthAdjust="spacingAndGlyphs">transition x2 vers x3</text>
<text x="364.82" y="880.60" font-size="15.0" fill="#58a462" textLength="99.02" lengthAdjust="spacingAndGlyphs">valeur atteinte</text>
<line x1="196.00" y1="949.50" x2="225.00" y2="949.50" stroke="#262626" stroke-width="1.5"/>
<line x1="244.00" y1="949.50" x2="274.00" y2="949.50" stroke="#262626" stroke-width="1.5"/>
<line x1="274.00" y1="949.50" x2="300.00" y2="949.50" stroke="#000000" stroke-width="1.6"/>
<rect x="224.80" y="940.20" width="3.7" height="19.4" rx="1" fill="#7489b0" stroke="#1e2634" stroke-width="1"/>
<rect x="241.50" y="940.20" width="3.0" height="19.4" rx="1" fill="#7489b0" stroke="#1e2634" stroke-width="1"/>
<text x="197.06" y="902.65" font-size="11.3" font-style="italic" fill="#9a9a9a" textLength="69.47" lengthAdjust="spacingAndGlyphs">Commentaire</text>
<text x="196.97" y="919.70" font-size="11.3" font-style="italic" fill="#9a9a9a" textLength="42.93" lengthAdjust="spacingAndGlyphs">Symbole</text>
<text x="198.71" y="936.50" font-size="12.0" fill="#222222" textLength="23.71" lengthAdjust="spacingAndGlyphs">%X2</text>
<line x1="300.00" y1="949.50" x2="319.00" y2="949.50" stroke="#262626" stroke-width="1.5"/>
<rect x="319.25" y="941.35" width="143.10" height="17.50" fill="#fff" stroke="#2e2e2e" stroke-width="2.7"/>
<line x1="463.70" y1="949.50" x2="482.00" y2="949.50" stroke="#262626" stroke-width="1.5"/>
<line x1="482.00" y1="949.50" x2="508.00" y2="949.50" stroke="#000000" stroke-width="1.6"/>
<text x="391.30" y="956.70" font-size="12" fill="#111111" text-anchor="middle">&lt;</text>
<text x="489.77" y="917.20" font-size="12.0" font-weight="bold" fill="#111111" text-anchor="end" textLength="122.52" lengthAdjust="spacingAndGlyphs">COMPTEUR = VALEUR</text>
<text x="489.21" y="933.80" font-size="12.0" fill="#222222" text-anchor="end" textLength="88.42" lengthAdjust="spacingAndGlyphs">%MW0 = %MW1</text>
<line x1="508.00" y1="949.50" x2="537.00" y2="949.50" stroke="#262626" stroke-width="1.5"/>
<line x1="556.00" y1="949.50" x2="586.00" y2="949.50" stroke="#262626" stroke-width="1.5"/>
<line x1="586.00" y1="949.50" x2="612.00" y2="949.50" stroke="#000000" stroke-width="1.6"/>
<rect x="536.80" y="940.20" width="3.7" height="19.4" rx="1" fill="#7489b0" stroke="#1e2634" stroke-width="1"/>
<rect x="553.50" y="940.20" width="3.0" height="19.4" rx="1" fill="#7489b0" stroke="#1e2634" stroke-width="1"/>
<line x1="543.10" y1="957.00" x2="550.30" y2="943.70" stroke="#111111" stroke-width="1.5"/>
<text x="510.82" y="902.80" font-size="11.4" fill="#58a462" textLength="85.48" lengthAdjust="spacingAndGlyphs">bouton à cliquer</text>
<text x="510.48" y="919.80" font-size="12.0" font-weight="bold" fill="#111111" textLength="24.21" lengthAdjust="spacingAndGlyphs">CLIC</text>
<text x="510.71" y="936.50" font-size="12.0" fill="#222222" textLength="31.85" lengthAdjust="spacingAndGlyphs">%M12</text>
<line x1="612.00" y1="949.50" x2="1236.00" y2="949.50" stroke="#000000" stroke-width="1.6"/>
<line x1="1236.00" y1="949.50" x2="1293.50" y2="949.50" stroke="#262626" stroke-width="1.5"/>
<path d="M1301.80,940.00 A8.8 8.8 0 0 0 1301.80,957.60 L1301.10,956.30 A8.3 8.3 0 0 1 1301.10,941.30 Z" fill="#7489b0" stroke="#1e2634" stroke-width="0.9"/>
<path d="M1313.80,940.00 A8.8 8.8 0 0 1 1313.80,957.60 L1314.50,956.30 A8.3 8.3 0 0 0 1314.50,941.30 Z" fill="#7489b0" stroke="#1e2634" stroke-width="0.9"/>
<text x="1239.43" y="902.80" font-size="11.4" fill="#58a462" textLength="88.02" lengthAdjust="spacingAndGlyphs">transition de x2...</text>
<text x="1238.79" y="919.80" font-size="12.0" font-weight="bold" fill="#111111" textLength="52.05" lengthAdjust="spacingAndGlyphs">TR_X2_X3</text>
<text x="1238.71" y="936.50" font-size="12.0" fill="#222222" textLength="25.57" lengthAdjust="spacingAndGlyphs">%M2</text>
<path d="M6.00,980.60 H192.00 V1096.30 H6.00 Q2.40,1096.30 2.40,1092.70 V984.20 Q2.40,980.60 6.00,980.60 Z" fill="#3ecd5b" stroke="#4cbb5e" stroke-width="0.8"/>
<circle cx="13.60" cy="1003.30" r="8.5" fill="#33ae3e"/>
<path d="M10.20,1001.30 L13.80,1006.20 L19.10,997.40" fill="none" stroke="#ffffff" stroke-width="2.7"/>
<rect x="29.50" y="991.40" width="41" height="23" rx="0.6" fill="#ececec" stroke="#d3f7da" stroke-width="1"/>
<text x="33.15" y="1009.70" font-size="15.0" fill="#111111" textLength="18.34" lengthAdjust="spacingAndGlyphs">LD</text>
<path d="M56.40,1001.00 H65.00 L60.70,1006.30 Z" fill="#000"/>
<text x="74.50" y="1010.00" font-size="15.0" font-weight="bold" fill="#0c160d" textLength="47.85" lengthAdjust="spacingAndGlyphs">Rung6</text>
<rect x="9.40" y="1027.60" width="125.2" height="24" rx="0.6" fill="#ececec" stroke="#d3f7da" stroke-width="1"/>
<text x="12.00" y="1044.70" font-size="14.0" fill="#111111" textLength="103.35" lengthAdjust="spacingAndGlyphs">Corps du réseau</text>
<path d="M120.00,1037.50 H130.00 L125.00,1042.90 Z" fill="#000"/>
<rect x="191.00" y="980.20" width="5.00" height="116.50" fill="#333333"/>
<rect x="1343.00" y="980.20" width="5.00" height="116.50" fill="#333333"/>
<rect x="1347.40" y="981.20" width="0.80" height="114.50" fill="#1f4a2a"/>
<rect x="1348.20" y="981.20" width="1.40" height="114.50" fill="#dcf8e4"/>
<clipPath id="gc8"><rect x="0" y="1009.10" width="1350" height="87.60"/></clipPath>
<g clip-path="url(#gc8)" fill="#666666"><rect x="196.00" y="1007.10" width="2" height="4"/><rect x="298.00" y="1007.10" width="4" height="4"/><rect x="402.00" y="1007.10" width="4" height="4"/><rect x="506.00" y="1007.10" width="4" height="4"/><rect x="610.00" y="1007.10" width="4" height="4"/><rect x="714.00" y="1007.10" width="4" height="4"/><rect x="818.00" y="1007.10" width="4" height="4"/><rect x="922.00" y="1007.10" width="4" height="4"/><rect x="1026.00" y="1007.10" width="4" height="4"/><rect x="1130.00" y="1007.10" width="4" height="4"/><rect x="1234.00" y="1007.10" width="4" height="4"/><rect x="1338.00" y="1007.10" width="2" height="4"/><rect x="196.00" y="1094.50" width="2" height="4"/><rect x="298.00" y="1094.50" width="4" height="4"/><rect x="402.00" y="1094.50" width="4" height="4"/><rect x="506.00" y="1094.50" width="4" height="4"/><rect x="610.00" y="1094.50" width="4" height="4"/><rect x="714.00" y="1094.50" width="4" height="4"/><rect x="818.00" y="1094.50" width="4" height="4"/><rect x="922.00" y="1094.50" width="4" height="4"/><rect x="1026.00" y="1094.50" width="4" height="4"/><rect x="1130.00" y="1094.50" width="4" height="4"/><rect x="1234.00" y="1094.50" width="4" height="4"/><rect x="1338.00" y="1094.50" width="2" height="4"/></g>
<text x="202.07" y="999.70" font-size="16.0" font-weight="bold" fill="#111111" textLength="53.89" lengthAdjust="spacingAndGlyphs">étape 3</text>
<text x="269.09" y="996.70" font-size="12.5" font-style="italic" fill="#9a9a9a" textLength="77.39" lengthAdjust="spacingAndGlyphs">Commentaire</text>
<line x1="196.00" y1="1069.50" x2="225.00" y2="1069.50" stroke="#262626" stroke-width="1.5"/>
<line x1="244.00" y1="1069.50" x2="274.00" y2="1069.50" stroke="#262626" stroke-width="1.5"/>
<line x1="274.00" y1="1069.50" x2="300.00" y2="1069.50" stroke="#000000" stroke-width="1.6"/>
<rect x="224.80" y="1060.20" width="3.7" height="19.4" rx="1" fill="#7489b0" stroke="#1e2634" stroke-width="1"/>
<rect x="241.50" y="1060.20" width="3.0" height="19.4" rx="1" fill="#7489b0" stroke="#1e2634" stroke-width="1"/>
<text x="197.06" y="1022.65" font-size="11.3" font-style="italic" fill="#9a9a9a" textLength="69.47" lengthAdjust="spacingAndGlyphs">Commentaire</text>
<text x="196.97" y="1039.70" font-size="11.3" font-style="italic" fill="#9a9a9a" textLength="42.93" lengthAdjust="spacingAndGlyphs">Symbole</text>
<text x="198.71" y="1056.50" font-size="12.0" fill="#222222" textLength="23.71" lengthAdjust="spacingAndGlyphs">%X3</text>
<line x1="300.00" y1="1069.50" x2="319.00" y2="1069.50" stroke="#262626" stroke-width="1.5"/>
<rect x="319.25" y="1061.35" width="143.10" height="17.50" fill="#fff" stroke="#2e2e2e" stroke-width="2.7"/>
<line x1="463.70" y1="1069.50" x2="482.00" y2="1069.50" stroke="#262626" stroke-width="1.5"/>
<line x1="482.00" y1="1069.50" x2="508.00" y2="1069.50" stroke="#000000" stroke-width="1.6"/>
<text x="391.30" y="1076.70" font-size="12" fill="#111111" text-anchor="middle">&lt;</text>
<text x="489.77" y="1037.20" font-size="12.0" font-weight="bold" fill="#111111" text-anchor="end" textLength="123.34" lengthAdjust="spacingAndGlyphs">COMPTEUR &gt; VALEUR</text>
<text x="489.21" y="1053.80" font-size="12.0" fill="#222222" text-anchor="end" textLength="88.42" lengthAdjust="spacingAndGlyphs">%MW0 &gt; %MW1</text>
<line x1="508.00" y1="1069.50" x2="1236.00" y2="1069.50" stroke="#000000" stroke-width="1.6"/>
<line x1="1236.00" y1="1069.50" x2="1293.50" y2="1069.50" stroke="#262626" stroke-width="1.5"/>
<path d="M1301.80,1060.00 A8.8 8.8 0 0 0 1301.80,1077.60 L1301.10,1076.30 A8.3 8.3 0 0 1 1301.10,1061.30 Z" fill="#7489b0" stroke="#1e2634" stroke-width="0.9"/>
<path d="M1313.80,1060.00 A8.8 8.8 0 0 1 1313.80,1077.60 L1314.50,1076.30 A8.3 8.3 0 0 0 1314.50,1061.30 Z" fill="#7489b0" stroke="#1e2634" stroke-width="0.9"/>
<text x="1307.60" y="1072.90" font-size="12.5" fill="#333333" text-anchor="middle">S</text>
<text x="1238.80" y="1022.80" font-size="11.4" fill="#58a462" textLength="58.13" lengthAdjust="spacingAndGlyphs">bit d&#x27;erreur</text>
<text x="1238.22" y="1039.80" font-size="12.0" font-weight="bold" fill="#111111" textLength="44.12" lengthAdjust="spacingAndGlyphs">ERREUR</text>
<text x="1238.70" y="1056.50" font-size="12.0" fill="#222222" textLength="31.52" lengthAdjust="spacingAndGlyphs">%M11</text>
<path d="M6.00,1100.40 H192.00 V1303.35 H6.00 Q2.40,1303.35 2.40,1299.75 V1104.00 Q2.40,1100.40 6.00,1100.40 Z" fill="#3ecd5b" stroke="#4cbb5e" stroke-width="0.8"/>
<circle cx="13.60" cy="1122.80" r="8.5" fill="#33ae3e"/>
<path d="M10.20,1120.80 L13.80,1125.70 L19.10,1116.90" fill="none" stroke="#ffffff" stroke-width="2.7"/>
<rect x="29.50" y="1110.90" width="41" height="23" rx="0.6" fill="#ececec" stroke="#d3f7da" stroke-width="1"/>
<text x="33.15" y="1129.20" font-size="15.0" fill="#111111" textLength="18.34" lengthAdjust="spacingAndGlyphs">LD</text>
<path d="M56.40,1120.50 H65.00 L60.70,1125.80 Z" fill="#000"/>
<text x="74.50" y="1129.50" font-size="15.0" font-weight="bold" fill="#0c160d" textLength="47.93" lengthAdjust="spacingAndGlyphs">Rung7</text>
<rect x="9.40" y="1147.10" width="125.2" height="24" rx="0.6" fill="#ececec" stroke="#d3f7da" stroke-width="1"/>
<text x="12.00" y="1164.20" font-size="14.0" fill="#111111" textLength="103.35" lengthAdjust="spacingAndGlyphs">Corps du réseau</text>
<path d="M120.00,1157.00 H130.00 L125.00,1162.40 Z" fill="#000"/>
<rect x="191.00" y="1100.00" width="5.00" height="203.75" fill="#333333"/>
<rect x="1343.00" y="1100.00" width="5.00" height="203.75" fill="#333333"/>
<rect x="1347.40" y="1101.00" width="0.80" height="201.75" fill="#1f4a2a"/>
<rect x="1348.20" y="1101.00" width="1.40" height="201.75" fill="#dcf8e4"/>
<clipPath id="gc9"><rect x="0" y="1128.60" width="1350" height="175.15"/></clipPath>
<g clip-path="url(#gc9)" fill="#666666"><rect x="196.00" y="1126.60" width="2" height="4"/><rect x="298.00" y="1126.60" width="4" height="4"/><rect x="402.00" y="1126.60" width="4" height="4"/><rect x="506.00" y="1126.60" width="4" height="4"/><rect x="610.00" y="1126.60" width="4" height="4"/><rect x="714.00" y="1126.60" width="4" height="4"/><rect x="818.00" y="1126.60" width="4" height="4"/><rect x="922.00" y="1126.60" width="4" height="4"/><rect x="1026.00" y="1126.60" width="4" height="4"/><rect x="1130.00" y="1126.60" width="4" height="4"/><rect x="1234.00" y="1126.60" width="4" height="4"/><rect x="1338.00" y="1126.60" width="2" height="4"/><rect x="196.00" y="1215.00" width="2" height="4"/><rect x="298.00" y="1215.00" width="4" height="4"/><rect x="402.00" y="1215.00" width="4" height="4"/><rect x="506.00" y="1215.00" width="4" height="4"/><rect x="610.00" y="1215.00" width="4" height="4"/><rect x="714.00" y="1215.00" width="4" height="4"/><rect x="818.00" y="1215.00" width="4" height="4"/><rect x="922.00" y="1215.00" width="4" height="4"/><rect x="1026.00" y="1215.00" width="4" height="4"/><rect x="1130.00" y="1215.00" width="4" height="4"/><rect x="1234.00" y="1215.00" width="4" height="4"/><rect x="1338.00" y="1215.00" width="2" height="4"/><rect x="196.00" y="1301.55" width="2" height="4"/><rect x="298.00" y="1301.55" width="4" height="4"/><rect x="402.00" y="1301.55" width="4" height="4"/><rect x="506.00" y="1301.55" width="4" height="4"/><rect x="610.00" y="1301.55" width="4" height="4"/><rect x="714.00" y="1301.55" width="4" height="4"/><rect x="818.00" y="1301.55" width="4" height="4"/><rect x="922.00" y="1301.55" width="4" height="4"/><rect x="1026.00" y="1301.55" width="4" height="4"/><rect x="1130.00" y="1301.55" width="4" height="4"/><rect x="1234.00" y="1301.55" width="4" height="4"/><rect x="1338.00" y="1301.55" width="2" height="4"/></g>
<text x="202.55" y="1119.50" font-size="16.0" font-weight="bold" fill="#111111" textLength="147.76" lengthAdjust="spacingAndGlyphs">transition x3 vers x1</text>
<text x="364.59" y="1116.50" font-size="12.5" font-style="italic" fill="#9a9a9a" textLength="77.39" lengthAdjust="spacingAndGlyphs">Commentaire</text>
<line x1="196.00" y1="1189.00" x2="225.00" y2="1189.00" stroke="#262626" stroke-width="1.5"/>
<line x1="244.00" y1="1189.00" x2="274.00" y2="1189.00" stroke="#262626" stroke-width="1.5"/>
<line x1="274.00" y1="1189.00" x2="300.00" y2="1189.00" stroke="#000000" stroke-width="1.6"/>
<rect x="224.80" y="1179.70" width="3.7" height="19.4" rx="1" fill="#7489b0" stroke="#1e2634" stroke-width="1"/>
<rect x="241.50" y="1179.70" width="3.0" height="19.4" rx="1" fill="#7489b0" stroke="#1e2634" stroke-width="1"/>
<text x="197.06" y="1142.15" font-size="11.3" font-style="italic" fill="#9a9a9a" textLength="69.47" lengthAdjust="spacingAndGlyphs">Commentaire</text>
<text x="196.97" y="1159.20" font-size="11.3" font-style="italic" fill="#9a9a9a" textLength="42.93" lengthAdjust="spacingAndGlyphs">Symbole</text>
<text x="198.71" y="1176.00" font-size="12.0" fill="#222222" textLength="23.71" lengthAdjust="spacingAndGlyphs">%X3</text>
<line x1="300.00" y1="1189.00" x2="329.00" y2="1189.00" stroke="#262626" stroke-width="1.5"/>
<line x1="348.00" y1="1189.00" x2="378.00" y2="1189.00" stroke="#262626" stroke-width="1.5"/>
<line x1="378.00" y1="1189.00" x2="404.00" y2="1189.00" stroke="#000000" stroke-width="1.6"/>
<rect x="328.80" y="1179.70" width="3.7" height="19.4" rx="1" fill="#7489b0" stroke="#1e2634" stroke-width="1"/>
<rect x="345.50" y="1179.70" width="3.0" height="19.4" rx="1" fill="#7489b0" stroke="#1e2634" stroke-width="1"/>
<text x="302.80" y="1142.30" font-size="11.4" fill="#58a462" textLength="58.13" lengthAdjust="spacingAndGlyphs">bit d&#x27;erreur</text>
<text x="302.22" y="1159.30" font-size="12.0" font-weight="bold" fill="#111111" textLength="44.12" lengthAdjust="spacingAndGlyphs">ERREUR</text>
<text x="302.70" y="1176.00" font-size="12.0" fill="#222222" textLength="31.52" lengthAdjust="spacingAndGlyphs">%M11</text>
<line x1="404.00" y1="1189.00" x2="1236.00" y2="1189.00" stroke="#000000" stroke-width="1.6"/>
<line x1="1236.00" y1="1189.00" x2="1293.50" y2="1189.00" stroke="#262626" stroke-width="1.5"/>
<path d="M1301.80,1179.50 A8.8 8.8 0 0 0 1301.80,1197.10 L1301.10,1195.80 A8.3 8.3 0 0 1 1301.10,1180.80 Z" fill="#7489b0" stroke="#1e2634" stroke-width="0.9"/>
<path d="M1313.80,1179.50 A8.8 8.8 0 0 1 1313.80,1197.10 L1314.50,1195.80 A8.3 8.3 0 0 0 1314.50,1180.80 Z" fill="#7489b0" stroke="#1e2634" stroke-width="0.9"/>
<text x="1239.43" y="1142.30" font-size="11.4" fill="#58a462" textLength="88.73" lengthAdjust="spacingAndGlyphs">transition de x3...</text>
<text x="1238.79" y="1159.30" font-size="12.0" font-weight="bold" fill="#111111" textLength="52.05" lengthAdjust="spacingAndGlyphs">TR_X3_X1</text>
<text x="1238.71" y="1176.00" font-size="12.0" fill="#222222" textLength="25.57" lengthAdjust="spacingAndGlyphs">%M3</text>
<line x1="286.00" y1="1188.20" x2="286.00" y2="1278.30" stroke="#000000" stroke-width="2"/>
<line x1="494.00" y1="1188.20" x2="494.00" y2="1278.30" stroke="#000000" stroke-width="2"/>
<line x1="286.00" y1="1277.50" x2="300.00" y2="1277.50" stroke="#000000" stroke-width="1.6"/>
<line x1="300.00" y1="1277.50" x2="319.00" y2="1277.50" stroke="#262626" stroke-width="1.5"/>
<rect x="319.25" y="1269.35" width="143.10" height="17.50" fill="#fff" stroke="#2e2e2e" stroke-width="2.7"/>
<line x1="463.70" y1="1277.50" x2="482.00" y2="1277.50" stroke="#262626" stroke-width="1.5"/>
<line x1="482.00" y1="1277.50" x2="494.00" y2="1277.50" stroke="#000000" stroke-width="1.6"/>
<text x="391.30" y="1284.70" font-size="12" fill="#111111" text-anchor="middle">&lt;</text>
<text x="489.77" y="1245.20" font-size="12.0" font-weight="bold" fill="#111111" text-anchor="end" textLength="122.52" lengthAdjust="spacingAndGlyphs">COMPTEUR = VALEUR</text>
<text x="489.21" y="1261.80" font-size="12.0" fill="#222222" text-anchor="end" textLength="88.42" lengthAdjust="spacingAndGlyphs">%MW0 = %MW1</text>
</g></svg></body></html>
